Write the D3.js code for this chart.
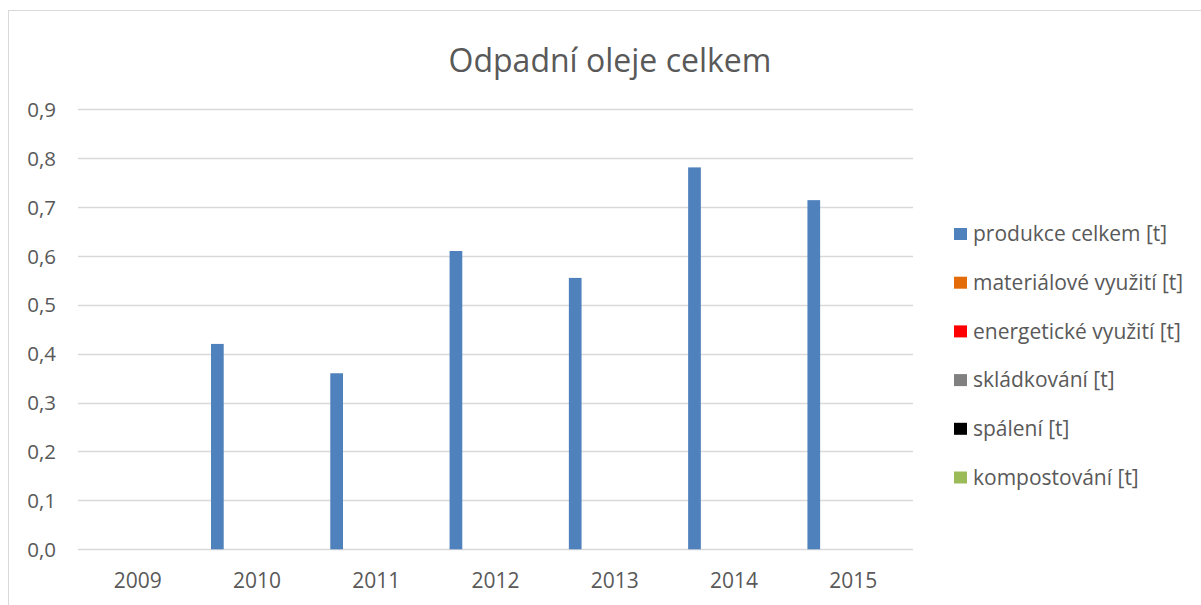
<!DOCTYPE html>
<html>
<head>
<meta charset="utf-8">
<script src="https://cdn.jsdelivr.net/npm/d3@7"></script>
<style>
  html, body { margin: 0; padding: 0; background: #fff; }
  svg { display: block; }
  text { font-family: "Open Sans", Lato, sans-serif; fill: #595959; }
</style>
</head>
<body>
<svg id="chart" width="1201" height="605"></svg>
<script>
const title = "Odpadní oleje celkem";
const years = ["2009", "2010", "2011", "2012", "2013", "2014", "2015"];
const seriesNames = ["produkce celkem [t]", "materiálové využití [t]", "energetické využití [t]", "skládkování [t]", "spálení [t]", "kompostování [t]"];
const seriesColors = ["#4f81bd", "#e36c09", "#ff0000", "#808080", "#000000", "#9bbb59"];
const produkce = [0, 0.42, 0.36, 0.61, 0.555, 0.781, 0.714];
const materialove = [0, 0, 0, 0, 0, 0, 0];
const energeticke = [0, 0, 0, 0, 0, 0, 0];
const skladkovani = [0, 0, 0, 0, 0, 0, 0];
const spaleni = [0, 0, 0, 0, 0, 0, 0];
const kompostovani = [0, 0, 0, 0, 0, 0, 0];
const yTicks = [0, 0.1, 0.2, 0.3, 0.4, 0.5, 0.6, 0.7, 0.8, 0.9];

const seriesValues = [produkce, materialove, energeticke, skladkovani, spaleni, kompostovani];
const FONT = "'Open Sans', Lato, sans-serif";

const svg = d3.select("#chart");

// outer chart frame
svg.append("rect")
  .attr("x", 8.5).attr("y", 10.5)
  .attr("width", 1201).attr("height", 620)
  .attr("fill", "#fff").attr("stroke", "#d9d9d9").attr("stroke-width", 1);

const pLeft = 78, pRight = 913, pTop = 109.2, pBottom = 549.3;

const x0 = d3.scaleBand().domain(years).range([pLeft, pRight]).padding(0);
const bw = x0.bandwidth();
const x1 = d3.scaleBand().domain(seriesNames)
  .range([0.115 * bw, 0.115 * bw + 6 * 0.1065 * bw]).padding(0);
const y = d3.scaleLinear().domain([0, 0.9]).range([pBottom, pTop]);

// gridlines
svg.append("g").selectAll("line").data(yTicks).join("line")
  .attr("x1", pLeft).attr("x2", pRight)
  .attr("y1", d => Math.round(y(d)) + 0.5).attr("y2", d => Math.round(y(d)) + 0.5)
  .attr("stroke", "#d9d9d9").attr("stroke-width", 1.3);

// y axis labels
const yAxis = d3.axisLeft(y).tickValues(yTicks)
  .tickFormat(d => d3.format(".1f")(d).replace(".", ","))
  .tickSize(0).tickPadding(0);
const gy = svg.append("g").attr("transform", `translate(56,0)`).call(yAxis);
gy.select(".domain").remove();
gy.selectAll("text").attr("font-size", 20.5).attr("fill", "#595959")
  .style("font-family", FONT).attr("dy", "0.35em");

// x axis labels
const xAxis = d3.axisBottom(x0).tickSize(0).tickPadding(0);
const gx = svg.append("g").attr("transform", `translate(0,${pBottom})`).call(xAxis);
gx.select(".domain").remove();
gx.selectAll("text").attr("font-size", 21).attr("fill", "#595959")
  .style("font-family", FONT).attr("y", 38.5).attr("dy", 0);

// bars
const rows = [];
years.forEach((yr, i) => {
  seriesNames.forEach((s, j) => rows.push({ yr, s, j, v: seriesValues[j][i] }));
});
svg.append("g").selectAll("rect").data(rows.filter(d => d.v > 0)).join("rect")
  .attr("x", d => x0(d.yr) + x1(d.s))
  .attr("width", x1.bandwidth())
  .attr("y", d => y(d.v))
  .attr("height", d => y(0) - y(d.v))
  .attr("fill", d => seriesColors[d.j]);

// title
svg.append("text").attr("x", 610).attr("y", 72)
  .attr("text-anchor", "middle").attr("font-size", 32).text(title);

// legend
const lg = svg.append("g").selectAll("g").data(seriesNames).join("g")
  .attr("transform", (d, i) => `translate(954,${234 + i * 48.7})`);
lg.append("rect").attr("x", 0).attr("y", -6).attr("width", 13).attr("height", 12)
  .attr("fill", (d, i) => seriesColors[i]);
lg.append("text").attr("x", 19).attr("y", 0).attr("dy", "0.35em")
  .attr("font-size", 21).text(d => d);
</script>
</body>
</html>
